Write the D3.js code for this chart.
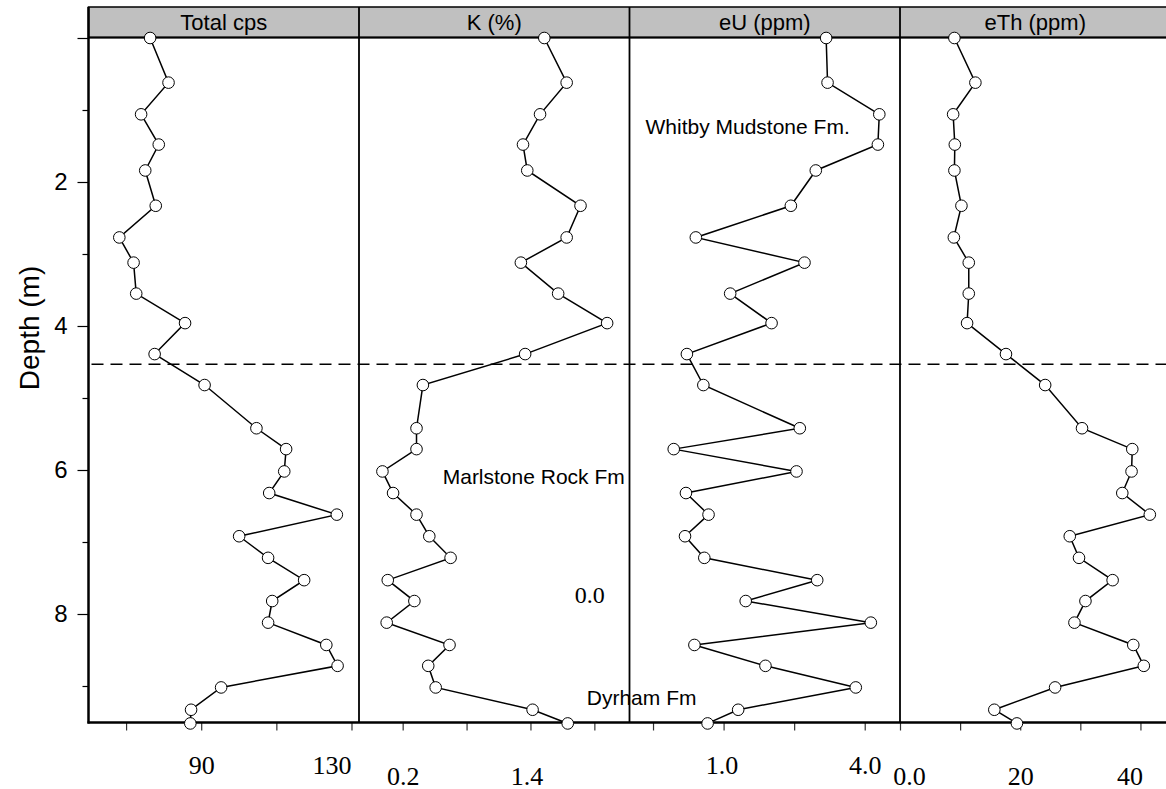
<!DOCTYPE html>
<html>
<head>
<meta charset="utf-8">
<script src="https://cdn.jsdelivr.net/npm/d3@7"></script>
<style>
  body { margin: 0; background: #fff; }
  svg { display: block; }
</style>
</head>
<body>
<svg id="chart" width="1166" height="789"></svg>
<script>
// Sample depths (m) and the four gamma-ray spectrometry logs
const depth = [0.00, 0.62, 1.06, 1.48, 1.84, 2.33, 2.77, 3.12, 3.55, 3.96, 4.39, 4.82, 5.42, 5.71,
               6.02, 6.32, 6.62, 6.92, 7.22, 7.53, 7.82, 8.12, 8.43, 8.72, 9.02, 9.33, 9.52];
const totalCps = [76.4, 81.3, 74.0, 78.7, 75.1, 77.9, 68.2, 72.0, 72.7, 85.7, 77.6, 90.9, 104.7, 112.6,
                  112.1, 108.1, 126.1, 100.1, 107.8, 117.4, 108.9, 107.8, 123.3, 126.3, 95.3, 87.3, 87.1];
const kPct = [1.53, 1.74, 1.49, 1.33, 1.37, 1.87, 1.74, 1.31, 1.66, 2.12, 1.35, 0.39, 0.33, 0.33,
              0.01, 0.11, 0.33, 0.45, 0.65, 0.06, 0.31, 0.05, 0.64, 0.44, 0.51, 1.42, 1.75];
const eU = [3.18, 3.21, 4.31, 4.28, 2.96, 2.43, 0.41, 2.72, 1.14, 2.02, 0.22, 0.57, 2.62, -0.06,
            2.55, 0.20, 0.68, 0.18, 0.59, 2.99, 1.47, 4.13, 0.38, 1.89, 3.81, 1.31, 0.66];
const eTh = [9.05, 12.54, 8.84, 9.12, 9.05, 10.22, 8.96, 11.44, 11.44, 11.16, 17.63, 24.15, 30.28, 38.64,
             38.52, 36.98, 41.56, 28.24, 29.78, 35.37, 30.85, 29.02, 38.81, 40.56, 25.80, 15.69, 19.45];

const panelTitles = ["Total cps", "K (%)", "eU (ppm)", "eTh (ppm)"];
const panelSeries = [totalCps, kPct, eU, eTh];
const panelDomains = [[60, 132], [-0.21, 2.33], [-1.0, 4.75], [0, 45]];
const panelTicks = [[70, 90, 110, 130], [0.2, 0.8, 1.4, 2.0], [-0.5, 1.0, 2.5, 4.0], [0, 10, 20, 30, 40]];
const panelTickLabels = [["", "90", "", "130"], ["0.2", "", "1.4", ""], ["", "1.0", "", "4.0"], ["0.0", "", "20", "", "40"]];

const depthDomain = [0, 9.5];
const depthTicks = [0, 1, 2, 3, 4, 5, 6, 7, 8, 9];
const depthTickLabels = ["", "", "2", "", "4", "", "6", "", "8", ""];
const boundaryDepth = 4.53;

// Formation labels placed in panel data coordinates
const annotations = [
  { panel: 2, value: -0.66, depth: 1.333, text: "Whitby Mudstone Fm.", serif: false },
  { panel: 1, value: 0.576, depth: 6.19, text: "Marlstone Rock Fm", serif: false },
  { panel: 1, value: 1.817, depth: 7.85, text: "0.0", serif: true },
  { panel: 1, value: 1.929, depth: 9.26, text: "Dyrham Fm", serif: false }
];

const svg = d3.select("#chart");
const sans = "Liberation Sans, Arial, sans-serif";
const serif = "Liberation Serif, Times New Roman, serif";

const left = 88.5, panelW = 270.5;
const headTop = 7, plotTop = 37.5, plotBottom = 722.5;

// horizontal nudges (px) that keep neighbouring bottom labels apart
const tickLabelNudge = [[0, 0, 0, -20], [0, 0, -4, 0], [0, -2, 0, 0], [9, 0, 0, 0, -11]];

const y = d3.scaleLinear().domain(depthDomain).range([38, 722]);

const xs = panelSeries.map((s, i) =>
  d3.scaleLinear().domain(panelDomains[i]).range([left + i * panelW, left + (i + 1) * panelW]));

// header strip
svg.append("rect")
  .attr("x", left).attr("y", headTop)
  .attr("width", panelW * 4 + 5).attr("height", plotTop - headTop)
  .attr("fill", "#c0c0c0").attr("stroke", "#000").attr("stroke-width", 1.5);
svg.append("line")
  .attr("x1", left).attr("x2", 1166).attr("y1", plotTop).attr("y2", plotTop)
  .attr("stroke", "#000").attr("stroke-width", 2);

panelTitles.forEach((t, i) => {
  svg.append("text")
    .attr("x", left + (i + 0.5) * panelW).attr("y", 30)
    .attr("text-anchor", "middle")
    .attr("font-family", sans).attr("font-size", 22)
    .attr("fill", "#000").text(t);
});

// panel dividers
for (let i = 1; i < 4; i++) {
  svg.append("line")
    .attr("x1", left + i * panelW).attr("x2", left + i * panelW)
    .attr("y1", headTop).attr("y2", plotBottom)
    .attr("stroke", "#000").attr("stroke-width", 1.8);
}

// depth axis
const yAxis = svg.append("g")
  .attr("transform", `translate(${left},0)`)
  .call(d3.axisLeft(y).tickValues(depthTicks).tickSize(11).tickPadding(10)
    .tickFormat((d, i) => depthTickLabels[i]));
yAxis.select(".domain").remove();
yAxis.selectAll(".tick line")
  .attr("x2", d => (d % 2 === 0 ? -11 : -6))
  .attr("stroke", "#000").attr("stroke-width", 1.2);
yAxis.selectAll(".tick text")
  .attr("font-family", sans).attr("font-size", 24).attr("fill", "#000");
svg.append("line")
  .attr("x1", left).attr("x2", left).attr("y1", headTop).attr("y2", plotBottom + 1)
  .attr("stroke", "#000").attr("stroke-width", 2.5);

svg.append("text")
  .attr("transform", "translate(39, 328) rotate(-90)")
  .attr("text-anchor", "middle")
  .attr("font-family", sans).attr("font-size", 28).attr("fill", "#000")
  .text("Depth (m)");

// bottom axes, one per panel, labels staggered in two rows
xs.forEach((x, i) => {
  const g = svg.append("g")
    .attr("transform", `translate(0,${plotBottom})`)
    .call(d3.axisBottom(x).tickValues(panelTicks[i]).tickSize(8).tickPadding(0)
      .tickFormat((d, k) => panelTickLabels[i][k]));
  g.select(".domain").remove();
  g.selectAll(".tick line").attr("stroke", "#333").attr("stroke-width", 1.2);
  g.selectAll(".tick text")
    .attr("font-family", serif).attr("font-size", 26).attr("fill", "#000")
    .attr("dy", null)
    .attr("x", (d, k) => tickLabelNudge[i][k])
    .attr("y", i % 2 === 0 ? 51 : 62);
});
svg.append("line")
  .attr("x1", left - 1).attr("x2", 1166).attr("y1", plotBottom).attr("y2", plotBottom)
  .attr("stroke", "#000").attr("stroke-width", 2.5);

// formation boundary
svg.append("line")
  .attr("x1", left + 3).attr("x2", 1166)
  .attr("y1", y(boundaryDepth)).attr("y2", y(boundaryDepth))
  .attr("stroke", "#000").attr("stroke-width", 1.5)
  .attr("stroke-dasharray", "12,7");

// log curves and sample markers
panelSeries.forEach((series, i) => {
  const x = xs[i];
  const pts = series.map((v, k) => ({ v, d: depth[k] }));
  svg.append("path")
    .datum(pts)
    .attr("fill", "none").attr("stroke", "#000").attr("stroke-width", 1.5)
    .attr("d", d3.line().x(p => x(p.v)).y(p => y(p.d)));
  svg.append("g").selectAll("circle")
    .data(pts).join("circle")
    .attr("cx", p => x(p.v)).attr("cy", p => y(p.d))
    .attr("r", 5.8)
    .attr("fill", "#fff").attr("stroke", "#000").attr("stroke-width", 1);
});

// formation labels
annotations.forEach(a => {
  svg.append("text")
    .attr("x", xs[a.panel](a.value)).attr("y", y(a.depth))
    .attr("font-family", a.serif ? serif : sans)
    .attr("font-size", a.serif ? 24 : 21)
    .attr("fill", "#000")
    .text(a.text);
});
</script>
</body>
</html>
